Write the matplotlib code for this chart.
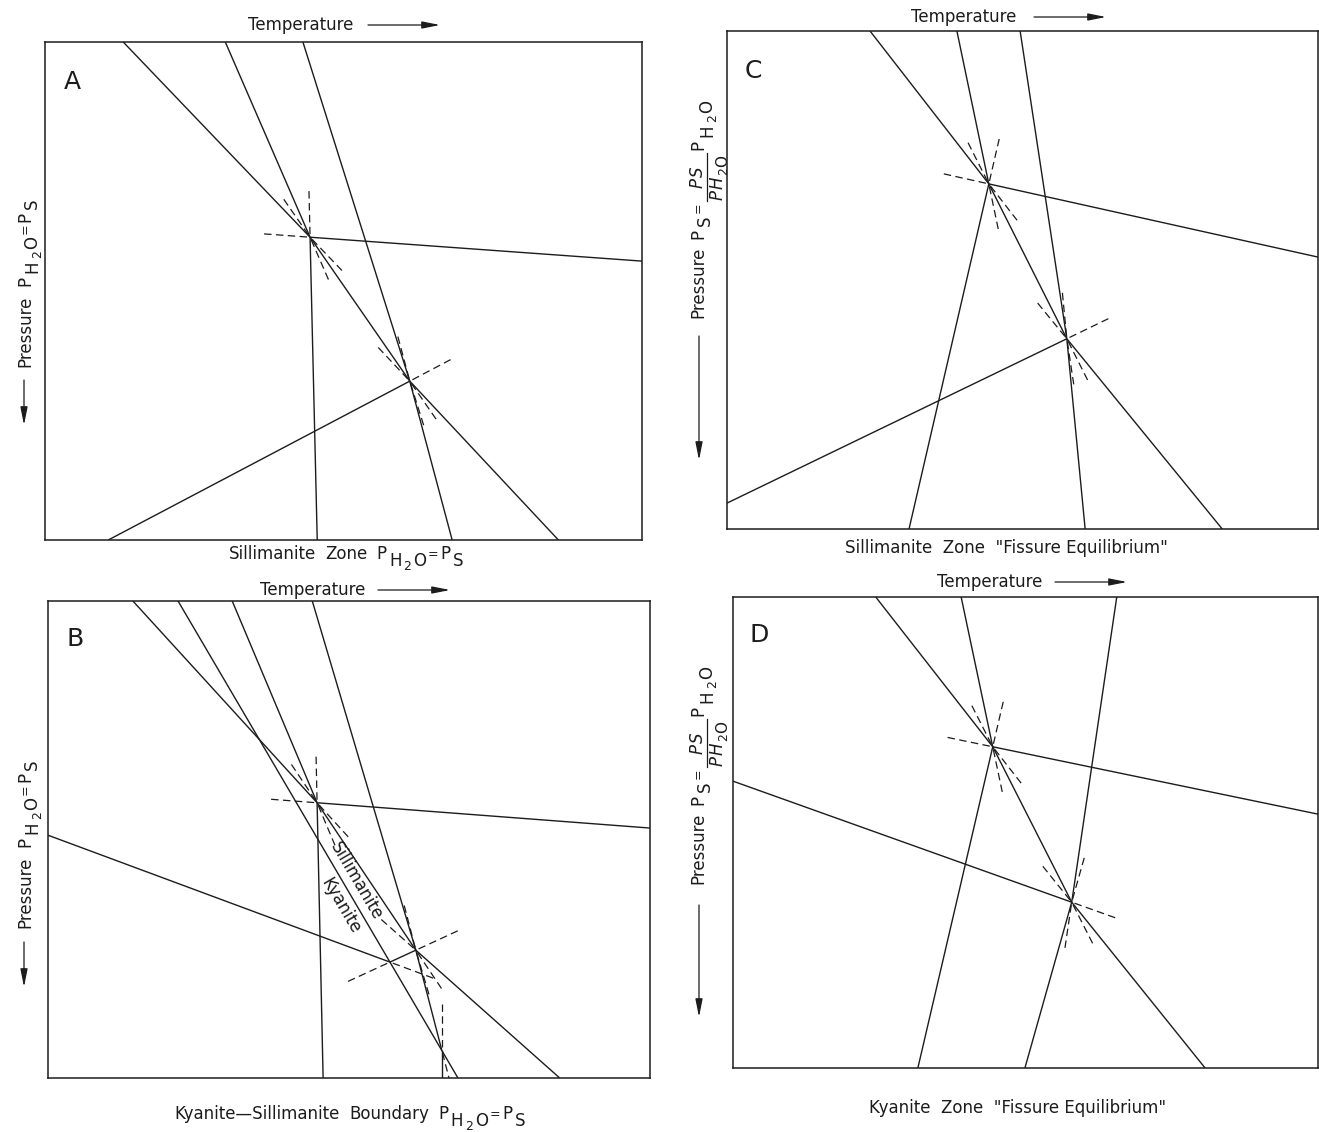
import matplotlib
matplotlib.use('Agg')
import matplotlib.pyplot as plt
from matplotlib.lines import Line2D
import numpy as np

plt.rcParams['font.family'] = ['DejaVu Sans']

INK = '#1c1c1c'
W, H = 1319, 1132

# Every diagram: temperature 0-100 to the right, pressure 0-100 downward.
# Invariant points, then univariant curves given as
# (invariant point, far-end T, far-end P), and curves joining two points.

# A  sillimanite zone, P_H2O = P_S
A_inv_T = [44.4, 61.1]
A_inv_P = [39.2, 68.1]
A_curves = [(0, 13.1, 0.0), (0, 30.2, 0.0), (0, 45.6, 100.0), (0, 100.0, 44.0),
            (1, 43.2, 0.0), (1, 68.2, 100.0), (1, 86.0, 100.0), (1, 10.6, 100.0)]
A_links = [(0, 1)]

# C  sillimanite zone, fissure equilibrium
C_inv_T = [44.3, 57.5]
C_inv_P = [30.7, 61.8]
C_curves = [(0, 24.2, 0.0), (0, 38.9, 0.0), (0, 100.0, 45.4), (0, 30.8, 100.0),
            (1, 49.6, 0.0), (1, 60.6, 100.0), (1, 0.0, 94.8), (1, 83.8, 100.0)]
C_links = [(0, 1)]

# B  kyanite-sillimanite boundary, P_H2O = P_S
B_inv_T = [44.7, 61.1, 56.8, 65.4]
B_inv_P = [42.3, 73.2, 75.7, 94.1]
B_curves = [(0, 14.1, 0.0), (0, 30.6, 0.0), (0, 45.7, 100.0), (0, 100.0, 47.6),
            (1, 43.9, 0.0), (1, 85.0, 100.0), (2, 0.0, 49.1), (3, 65.4, 100.0)]
B_links = [(0, 1), (2, 1), (1, 3)]
B_boundary_T = [21.6, 68.1]
B_boundary_P = [0.0, 100.0]

# D  kyanite zone, fissure equilibrium
D_inv_T = [44.4, 57.9]
D_inv_P = [31.8, 64.8]
D_curves = [(0, 24.4, 0.0), (0, 39.0, 0.0), (0, 100.0, 46.1), (0, 31.6, 100.0),
            (1, 65.6, 0.0), (1, 49.9, 100.0), (1, 0.0, 39.1), (1, 80.7, 100.0)]
D_links = [(0, 1)]

fig = plt.figure(figsize=(W / 100, H / 100), dpi=100)
fig.patch.set_facecolor('white')
renderer = fig.canvas.get_renderer()

DASH = (6, 3.5)
DASH_LW = 0.9


def box(left, top, right, bottom):
    return [left / W, 1 - bottom / H, (right - left) / W, (bottom - top) / H]


def fpos(x, y):
    return x / W, 1 - y / H


def draw_diagram(ax, inv_T, inv_P, curves, links, n_dash=4):
    ax.set_xlim(0, 100)
    ax.set_ylim(100, 0)
    ax.set_xticks([])
    ax.set_yticks([])
    for s in ax.spines.values():
        s.set_linewidth(1.1)
        s.set_color(INK)
    # extension length: whole dashes only, no stub at the far end
    on, off = [v * DASH_LW * fig.dpi / 72 for v in DASH]
    ext = n_dash * on + (n_dash - 1) * off
    pts = np.column_stack([inv_T, inv_P])
    segs = [(pts[i], np.array([t, p]), [0]) for i, t, p in curves]
    segs += [(pts[i], pts[j], [0, 1]) for i, j in links]
    to_disp = ax.transData.transform
    to_data = ax.transData.inverted().transform
    for a, b, ends in segs:
        ax.plot([a[0], b[0]], [a[1], b[1]], color=INK, lw=1.0,
                solid_capstyle='butt')
        # metastable extension beyond each invariant point
        for e in ends:
            p, q = (a, b) if e == 0 else (b, a)
            dp, dq = to_disp(p), to_disp(q)
            d = (dp - dq) / np.hypot(*(dp - dq))
            s0, s1 = to_data(dp + 3 * d), to_data(dp + (3 + ext) * d)
            ax.plot([s0[0], s1[0]], [s0[1], s1[1]], color=INK, lw=DASH_LW,
                    linestyle=(0, DASH), dash_capstyle='butt')


# --- lettering: pieces laid along a baseline, subscripts dropped below it
def glyph_width(s, size, style):
    t = fig.text(0, 0, s, fontsize=size, style=style)
    w = t.get_window_extent(renderer).width
    t.remove()
    return w


def layout(items, track=1.8):
    out, bars, u = [], [], 0.0
    for it in items:
        if it[0] == 'gap':
            u += it[1]
        elif it[0] == 't':
            _, s, size, drop, style = it
            out.append((s, size, u, drop, style))
            u += glyph_width(s, size, style) + (track if len(s) == 1 else 0)
        elif it[0] == 'frac':
            _, num, den, ndrop, ddrop, bdrop = it
            n_out, _, wn = layout(num, 1.0)
            d_out, _, wd = layout(den, 1.0)
            w = max(wn, wd) + 2
            for s, size, uu, v, st in n_out:
                out.append((s, size, u + (w - wn) / 2 + uu, v + ndrop, st))
            for s, size, uu, v, st in d_out:
                out.append((s, size, u + (w - wd) / 2 + uu, v + ddrop, st))
            bars.append((u, u + w, bdrop))
            u += w + 3
    return out, bars, u


def letter(x0, y0, items, rotation=0, center=False):
    out, bars, width = layout(items)
    shift = -width / 2 if center else 0.0

    def to_px(u, v):
        u += shift
        if rotation == 0:
            return x0 + u, y0 + v
        return x0 + v, y0 - u

    for s, size, u, v, st in out:
        x, y = to_px(u, v)
        fig.text(*fpos(x, y), s, fontsize=size, style=st, color=INK,
                 rotation=rotation, rotation_mode='anchor',
                 ha='left', va='baseline')
    for u0, u1, v in bars:
        (xa, ya), (xb, yb) = to_px(u0, v), to_px(u1, v)
        fig.add_artist(Line2D([xa / W, xb / W], [1 - ya / H, 1 - yb / H],
                              color=INK, lw=0.9, transform=fig.transFigure))


def t(s, drop=0, size=12, style='normal'):
    return ('t', s, size, drop, style)


def words(*ws, size=12, gap=9):
    items = []
    for w in ws:
        items += [t(w, 0, size), ('gap', gap)]
    return items


SUB = 7
p_h2o = [t('P'), ('gap', 1), t('H', SUB), t('2', SUB + 4, 9), t('O', SUB)]
eq = [t('=', -1, 9)]
p_s = [t('P'), ('gap', 1), t('S', SUB)]
ratio = ('frac', [t('P', 0, 12, 'italic'), t('S', 0, 12, 'italic')],
         [t('P', 0, 12, 'italic'), t('H', 0, 12, 'italic'),
          t('2', 4, 9), t('O', 4, 11)], 0, 20, 4)

equal_label = words('Pressure', gap=10) + p_h2o + eq + p_s
fissure_label = (words('Pressure', gap=8) + p_s + eq + [ratio]
                 + [t('P'), ('gap', 1), t('H', 9), t('2', 13, 9), t('O', 9)])


def temperature(ax, x0, xa, y):
    fig.text(*fpos(x0, y), 'Temperature', fontsize=12, color=INK,
             ha='left', va='center')
    ax.annotate('', xy=(xa + 72, H - y), xytext=(xa, H - y),
                xycoords='figure pixels', annotation_clip=False,
                arrowprops=dict(arrowstyle='-|>,head_length=0.9,head_width=0.18',
                                color=INK, lw=0.9, mutation_scale=12,
                                shrinkA=0, shrinkB=0))


def pressure(ax, items, x, y_text, xa, y0, y1):
    letter(x, y_text, items, rotation=90)
    ax.annotate('', xy=(xa, H - y1), xytext=(xa, H - y0),
                xycoords='figure pixels', annotation_clip=False,
                arrowprops=dict(arrowstyle='-|>,head_length=0.9,head_width=0.18',
                                color=INK, lw=0.9, mutation_scale=12,
                                shrinkA=0, shrinkB=0))


axA = fig.add_axes(box(45, 42, 642, 540))
draw_diagram(axA, A_inv_T, A_inv_P, A_curves, A_links)
axA.text(0.045, 0.92, 'A', transform=axA.transAxes, fontsize=18, color=INK,
         ha='center', va='center')
temperature(axA, 248, 368, 25)
pressure(axA, equal_label, 30, 367, 24, 380, 425)
letter(347, 559, words('Sillimanite', 'Zone') + p_h2o + eq + p_s, center=True)

axC = fig.add_axes(box(727, 31, 1318, 529))
draw_diagram(axC, C_inv_T, C_inv_P, C_curves, C_links)
axC.text(0.045, 0.92, 'C', transform=axC.transAxes, fontsize=18, color=INK,
         ha='center', va='center')
temperature(axC, 911, 1034, 17)
pressure(axC, fissure_label, 703, 318, 699, 336, 460)
fig.text(*fpos(1006, 548), 'Sillimanite  Zone  "Fissure Equilibrium"',
         fontsize=12, color=INK, ha='center', va='center')

axB = fig.add_axes(box(48, 601, 650, 1078))
draw_diagram(axB, B_inv_T, B_inv_P, B_curves, B_links)
axB.plot(B_boundary_T, B_boundary_P, color=INK, lw=1.0)
axB.text(0.045, 0.92, 'B', transform=axB.transAxes, fontsize=18, color=INK,
         ha='center', va='center')
temperature(axB, 260, 378, 590)
pressure(axB, equal_label, 30, 928, 24, 942, 987)
letter(351, 1119, words('Kyanite—Sillimanite', 'Boundary') + p_h2o + eq + p_s,
       center=True)

# phase labels either side of the kyanite = sillimanite curve
bd = axB.transData.transform(np.column_stack([B_boundary_T, B_boundary_P]))
ang = np.degrees(np.arctan2(bd[1, 1] - bd[0, 1], bd[1, 0] - bd[0, 0]))
for txt, (x, y) in [('Sillimanite', (356, 881)), ('Kyanite', (341, 906))]:
    fig.text(*fpos(x, y), txt, fontsize=12, color=INK, rotation=ang,
             rotation_mode='anchor', ha='center', va='center')

axD = fig.add_axes(box(733, 597, 1318, 1068))
draw_diagram(axD, D_inv_T, D_inv_P, D_curves, D_links)
axD.text(0.045, 0.92, 'D', transform=axD.transAxes, fontsize=18, color=INK,
         ha='center', va='center')
temperature(axD, 937, 1055, 582)
pressure(axD, fissure_label, 703, 884, 699, 905, 1017)
fig.text(*fpos(1018, 1108), 'Kyanite  Zone  "Fissure Equilibrium"',
         fontsize=12, color=INK, ha='center', va='center')

fig.savefig('out.png', dpi=100, facecolor='white')
